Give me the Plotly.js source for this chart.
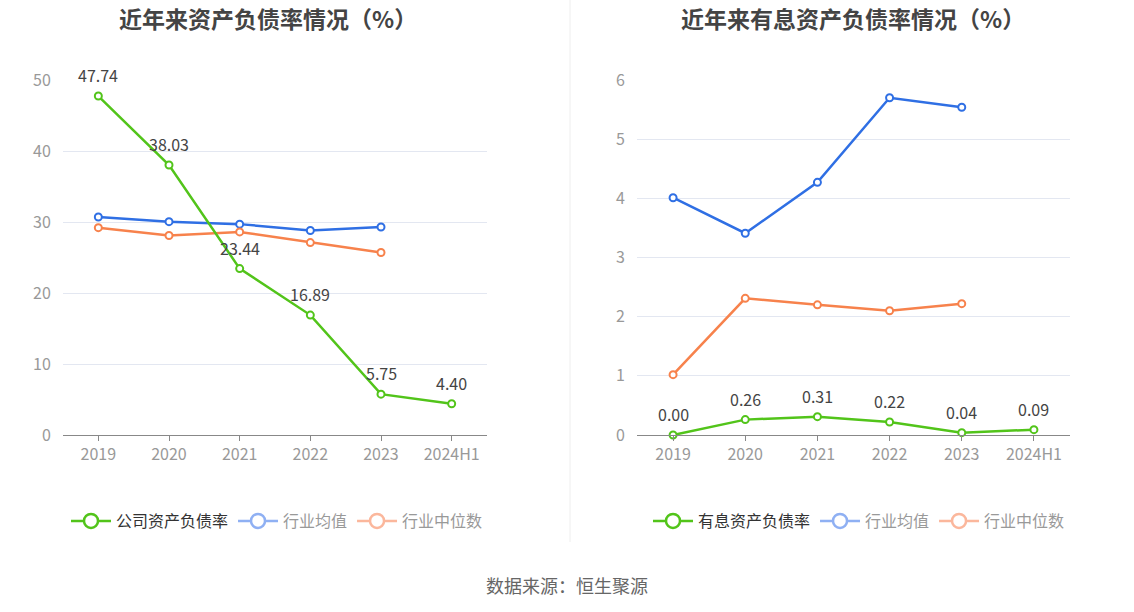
<!DOCTYPE html>
<html>
<head>
<meta charset="utf-8">
<script src="https://cdn.plot.ly/plotly-3.0.1.min.js"></script>
<style>
html,body{margin:0;padding:0;background:#fff;}
#chart{width:1134px;height:612px;}
</style>
</head>
<body>
<div id="chart"></div>
<script>
const categories = ['2019','2020','2021','2022','2023','2024H1'];
const companyDebtRatio = [47.74, 38.03, 23.44, 16.89, 5.75, 4.40];
const industryAvgDebt = [30.7, 30.05, 29.7, 28.8, 29.3, null];
const industryMedianDebt = [29.2, 28.1, 28.6, 27.1, 25.7, null];
const interestDebtRatio = [0.00, 0.26, 0.31, 0.22, 0.04, 0.09];
const industryAvgInterest = [4.01, 3.41, 4.27, 5.70, 5.54, null];
const industryMedianInterest = [1.02, 2.31, 2.20, 2.10, 2.22, null];

const leftTitle = '近年来资产负债率情况（%）';
const rightTitle = '近年来有息资产负债率情况（%）';
const sourceText = '数据来源：恒生聚源';

const FONT = '"Noto Sans CJK SC", "Noto Sans", sans-serif';
const GREEN = '#52c41a';
const BLUE = '#2f6fe4';
const ORANGE = '#f7824c';
const GREEN_L = '#52c41a';
const BLUE_L = '#8fb0f3';
const ORANGE_L = '#fbb79c';

function series(y, color, xa, ya) {
  return {
    type: 'scatter', mode: 'lines+markers',
    x: categories, y: y, xaxis: xa, yaxis: ya,
    line: {color: color, width: 2.5},
    marker: {symbol: 'circle', size: 7, color: '#fff', line: {color: color, width: 2}},
    showlegend: false, hoverinfo: 'skip', cliponaxis: false
  };
}
function legendItem(name, color, textColor, legend) {
  return {
    type: 'scatter', mode: 'lines+markers', x: [null], y: [null],
    name: '<span style="color:' + textColor + '">' + name + '</span>',
    line: {color: color, width: 2.5},
    marker: {symbol: 'circle', size: 14, color: '#fff', line: {color: color, width: 2.5}},
    legend: legend, hoverinfo: 'skip'
  };
}
function labels(vals, xref, yref) {
  return categories.map((c, i) => ({
    x: i, y: vals[i], xref: xref, yref: yref, text: vals[i].toFixed(2),
    showarrow: false, yshift: 21, xanchor: 'center', yanchor: 'middle',
    font: {family: FONT, size: 16, color: '#444'}
  }));
}

const data = [
  series(industryAvgDebt, BLUE, 'x', 'y'),
  series(industryMedianDebt, ORANGE, 'x', 'y'),
  series(companyDebtRatio, GREEN, 'x', 'y'),
  series(industryAvgInterest, BLUE, 'x2', 'y2'),
  series(industryMedianInterest, ORANGE, 'x2', 'y2'),
  series(interestDebtRatio, GREEN, 'x2', 'y2'),
  legendItem('公司资产负债率', GREEN_L, '#333', 'legend'),
  legendItem('行业均值', BLUE_L, '#999', 'legend'),
  legendItem('行业中位数', ORANGE_L, '#999', 'legend'),
  legendItem('有息资产负债率', GREEN_L, '#333', 'legend2'),
  legendItem('行业均值', BLUE_L, '#999', 'legend2'),
  legendItem('行业中位数', ORANGE_L, '#999', 'legend2')
];

const W = 1134, H = 612;
const yDom = [1 - 435/H, 1 - 80/H];
function xAxis(domain, anchor) {
  return {
    domain: domain, anchor: anchor, type: 'category', range: [-0.5, 5.5],
    showline: true, linecolor: '#888', linewidth: 1,
    ticks: 'outside', ticklen: 5, tickcolor: '#888',
    showgrid: false, zeroline: false,
    tickfont: {family: FONT, size: 16, color: '#999'}, fixedrange: true
  };
}
function yAxis(domain, anchor, range, dtick) {
  return {
    domain: domain, anchor: anchor, range: range, dtick: dtick,
    showline: false, zeroline: false, showgrid: true, gridcolor: '#e3e7f1', gridwidth: 1,
    ticks: 'outside', ticklen: 8, tickcolor: 'rgba(0,0,0,0)',
    tickfont: {family: FONT, size: 16, color: '#999'}, fixedrange: true
  };
}

const layout = {
  width: W, height: H,
  margin: {l: 0, r: 0, t: 0, b: 0},
  paper_bgcolor: '#fff', plot_bgcolor: '#fff',
  font: {family: FONT},
  xaxis: xAxis([63/W, 487/W], 'y'),
  yaxis: yAxis(yDom, 'x', [0, 50], 10),
  xaxis2: xAxis([637/W, 1070/W], 'y2'),
  yaxis2: yAxis(yDom, 'x2', [0, 6], 1),
  legend: {
    orientation: 'h', x: 277/W, xanchor: 'center', y: 1 - 521/H, yanchor: 'middle',
    font: {family: FONT, size: 16, color: '#333'}, bgcolor: 'rgba(0,0,0,0)',
    itemwidth: 40, tracegroupgap: 0
  },
  legend2: {
    orientation: 'h', x: 859/W, xanchor: 'center', y: 1 - 521/H, yanchor: 'middle',
    font: {family: FONT, size: 16, color: '#333'}, bgcolor: 'rgba(0,0,0,0)',
    itemwidth: 40, tracegroupgap: 0
  },
  annotations: [
    {text: '<b>' + leftTitle + '</b>', xref: 'paper', yref: 'paper', x: 268/W, y: 1 - 18/H,
     xanchor: 'center', yanchor: 'middle', showarrow: false, font: {family: FONT, size: 23, color: '#444'}},
    {text: '<b>' + rightTitle + '</b>', xref: 'paper', yref: 'paper', x: 853/W, y: 1 - 18/H,
     xanchor: 'center', yanchor: 'middle', showarrow: false, font: {family: FONT, size: 23, color: '#444'}},
    {text: sourceText, xref: 'paper', yref: 'paper', x: 567/W, y: 1 - 585/H,
     xanchor: 'center', yanchor: 'middle', showarrow: false, font: {family: FONT, size: 18, color: '#666'}}
  ].concat(labels(companyDebtRatio, 'x', 'y')).concat(labels(interestDebtRatio, 'x2', 'y2')),
  shapes: [
    {type: 'line', xref: 'paper', yref: 'paper', x0: 570/W, x1: 570/W, y0: 1 - 542/H, y1: 1,
     line: {color: '#eeeeee', width: 1}}
  ]
};

Plotly.newPlot('chart', data, layout, {staticPlot: true, displayModeBar: false});
</script>
</body>
</html>
